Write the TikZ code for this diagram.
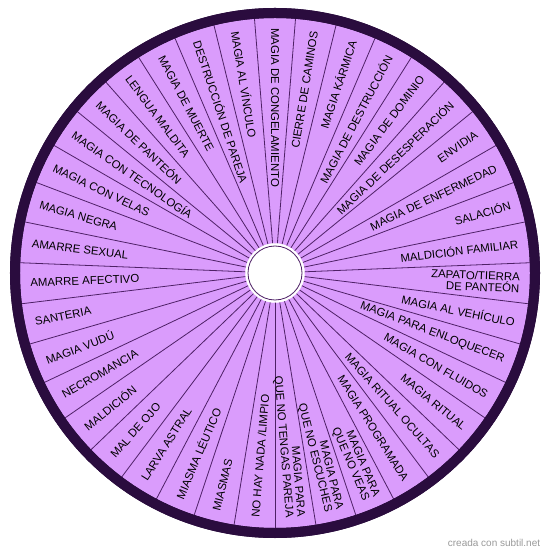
\documentclass[tikz,border=0pt]{standalone}
\usepackage{fontspec}
\setmainfont{Liberation Sans}
\definecolor{wheelfill}{RGB}{218,156,252}
\definecolor{wheelrim}{RGB}{42,12,62}
\definecolor{wheelline}{RGB}{78,32,102}

\begin{document}
\begin{tikzpicture}[x=1pt,y=1pt,
  rim/.style={line width=10pt,draw=wheelrim,fill=wheelfill},
  spoke/.style={wheelline,line width=0.8pt},
  rlabel/.style={anchor=east,align=right,inner sep=2pt,font=\fontsize{11.4}{11.5}\selectfont},
  llabel/.style={anchor=west,align=left,inner sep=2pt,font=\fontsize{11.4}{11.5}\selectfont}]

  \useasboundingbox (-275,-283) rectangle (275,273);

  % wheel
  \filldraw[rim] (0,0) circle (260pt);

  % sector lines
  \foreach \k in {0,...,38}
    \draw[spoke] ({94.615-\k*360/39}:29pt) -- ({94.615-\k*360/39}:256pt);
  \draw[rim,fill=none] (0,0) circle (260pt);

  % hub
  \filldraw[white] (0,0) circle (29.5pt);
  \draw[spoke] (0,0) circle (27pt);

  % right half: text runs out to the rim
  \foreach \txt [count=\i] in {CIERRE DE CAMINOS, MAGIA KÁRMICA,
      MAGIA DE DESTRUCCIÓN, MAGIA DE DOMINIO, MAGIA DE DESESPERACIÓN,
      ENVIDIA, MAGIA DE ENFERMEDAD, SALACIÓN, MALDICIÓN FAMILIAR,
      {ZAPATO/TIERRA\\DE PANTEÓN}, MAGIA AL VEHÍCULO,
      MAGIA PARA ENLOQUECER, MAGIA CON FLUIDOS, MAGIA RITUAL,
      MAGIA RITUAL OCULTAS, MAGIA PROGRAMADA, {MAGIA PARA\\QUE NO VEAS},
      {MAGIA PARA\\QUE NO ESCUCHES}, {MAGIA PARA\\QUE NO TENGAS PAREJA}}
    \node[rlabel,rotate={90-\i*360/39}] (r\i) at ({90-\i*360/39}:247pt) {\txt};

  % left half: text runs in from the rim
  \foreach \txt [count=\i from 20] in {NO HAY NADA /LIMPIO, MIASMAS,
      MIASMA LÉUTICO, LARVA ASTRAL, MAL DE OJO, MALDICIÓN, NECROMANCIA,
      MAGIA VUDÚ, SANTERIA, AMARRE AFECTIVO, AMARRE SEXUAL, MAGIA NEGRA,
      MAGIA CON VELAS, MAGIA CON TECNOLOGÍA, MAGIA DE PANTEÓN,
      LENGUA MALDITA, MAGIA DE MUERTE, DESTRUCCIÓN DE PAREJA,
      MAGIA AL VÍNCULO, MAGIA DE CONGELAMIENTO}
    \node[llabel,rotate={-90-\i*360/39}] (l\i) at ({90-\i*360/39}:247pt) {\txt};

  \node[text=black!40,font=\fontsize{10}{12}\selectfont] (credit) at (219,-270) {creada con subtil.net};
\end{tikzpicture}
\end{document}
